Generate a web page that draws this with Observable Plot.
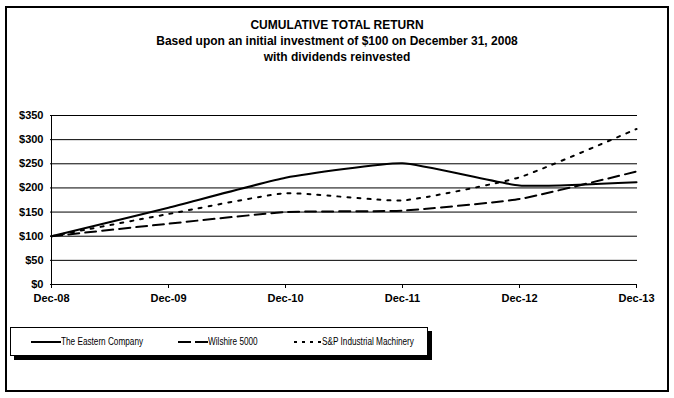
<!DOCTYPE html>
<html><head><meta charset="utf-8">
<script src="https://cdn.jsdelivr.net/npm/d3@7"></script>
<script src="https://cdn.jsdelivr.net/npm/@observablehq/plot@0.6"></script>
<style>
html,body{margin:0;padding:0;background:#fff;}
#wrap{position:relative;width:674px;height:398px;overflow:hidden;font-family:"Liberation Sans",Arial,sans-serif;}
#frame{position:absolute;left:5px;top:6px;width:660px;height:382px;border:2px solid #000;box-sizing:content-box;}
.title{position:absolute;left:0;width:674px;text-align:center;font-weight:bold;font-size:12px;color:#000;}
#chart{position:absolute;left:0;top:0;}
#legend{position:absolute;left:10px;top:327px;width:416px;height:27px;border:1px solid #000;background:#fff;box-shadow:4px 4px 0 #000;}
.li{position:absolute;top:0;height:27px;display:flex;align-items:center;white-space:nowrap;font-family:"Liberation Sans",Arial,sans-serif;font-size:10px;}
.li span{display:inline-block;transform:scaleX(0.82);transform-origin:left center;}
</style></head>
<body>
<div id="wrap">
  <div id="frame"></div>
  <div class="title" style="top:18px">CUMULATIVE TOTAL RETURN</div>
  <div class="title" style="top:34px">Based upon an initial investment of $100 on December 31, 2008</div>
  <div class="title" style="top:50px">with dividends reinvested</div>
  <div id="chart"></div>
  <div id="legend"></div>
</div>
<script>
const periods = ["Dec-08","Dec-09","Dec-10","Dec-11","Dec-12","Dec-13"];
const eastern = [100, 159, 221, 251, 205, 212];
const wilshire = [100, 126, 150, 153, 177, 234];
const spIndustrial = [100, 146, 189, 174, 222, 322];
const yTicks = [0, 50, 100, 150, 200, 250, 300, 350];
const seriesNames = ["The Eastern Company", "Wilshire 5000", "S&P Industrial Machinery"];

const styles = {
  "The Eastern Company": {dash: null},
  "Wilshire 5000": {dash: "11,6"},
  "S&P Industrial Machinery": {dash: "3,7"}
};

const rows = [];
[eastern, wilshire, spIndustrial].forEach((arr, i) => {
  arr.forEach((v, j) => rows.push({series: seriesNames[i], period: periods[j], value: v}));
});

const lineMarks = seriesNames.map(name =>
  Plot.line(rows.filter(r => r.series === name), {
    x: "period", y: "value", stroke: "#000", strokeWidth: 2,
    strokeDasharray: styles[name].dash, curve: "cardinal", tension: 0.55
  })
);

const chart = Plot.plot({
  width: 674, height: 398,
  marginLeft: 50, marginRight: 37, marginTop: 115, marginBottom: 114,
  style: {background: "transparent", fontFamily: "Liberation Sans, Arial, sans-serif"},
  x: {type: "point", domain: periods, padding: 0},
  y: {domain: [0, 350]},
  marks: [
    Plot.ruleY(yTicks, {stroke: "#000", strokeWidth: 1}),
    Plot.ruleX([periods[0]], {y1: 0, y2: 350, stroke: "#000", strokeWidth: 1}),
    Plot.axisY(yTicks, {tickSize: 4, tickFormat: d => "$" + d, fontWeight: "bold", fontSize: 11, fill: "#000", stroke: null, tickPadding: 3, label: null}),
    Plot.axisX(periods, {tickSize: 4, fontWeight: "bold", fontSize: 11, fill: "#000", tickPadding: 6, label: null}),
    ...lineMarks
  ]
});
document.getElementById("chart").appendChild(chart);

// legend
const legend = document.getElementById("legend");
const legendPos = [{x: 20, w: 30}, {x: 167, w: 30}, {x: 283, w: 28}];
seriesNames.forEach((name, i) => {
  const p = legendPos[i];
  const item = document.createElement("div");
  item.className = "li";
  item.style.left = p.x + "px";
  const dash = name === "Wilshire 5000" ? "13,4" : name === "S&P Industrial Machinery" ? "3,5" : "";
  item.innerHTML = `<svg width="${p.w}" height="6" style="display:block"><line x1="0" y1="3" x2="${p.w}" y2="3" stroke="#000" stroke-width="2" ${dash ? `stroke-dasharray="${dash}"` : ""}/></svg><span>${name.replace("&","&amp;")}</span>`;
  legend.appendChild(item);
});
</script>
</body></html>
